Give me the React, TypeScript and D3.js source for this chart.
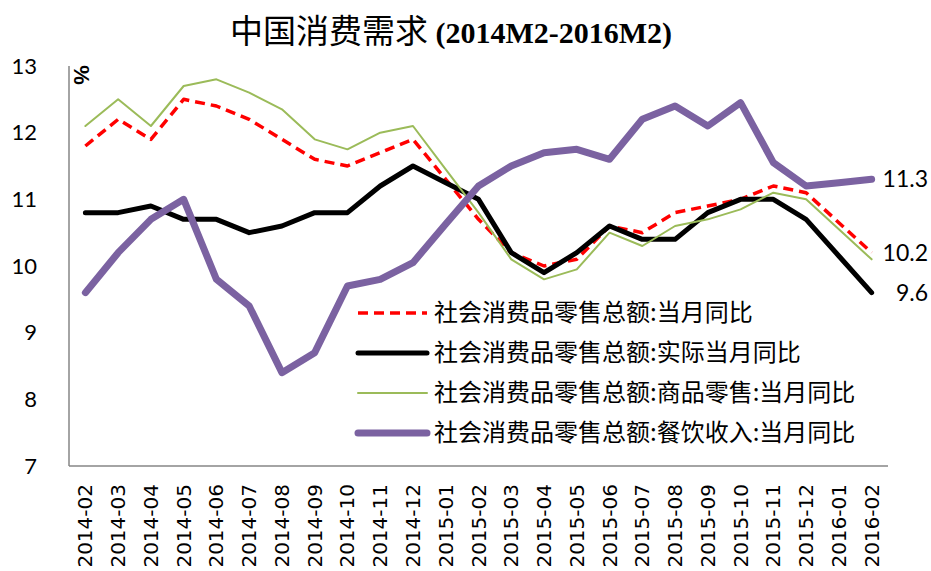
import React from "react";
import * as d3 from "d3";

const months = [
  "2014-02", "2014-03", "2014-04", "2014-05", "2014-06", "2014-07", "2014-08",
  "2014-09", "2014-10", "2014-11", "2014-12", "2015-01", "2015-02", "2015-03",
  "2015-04", "2015-05", "2015-06", "2015-07", "2015-08", "2015-09", "2015-10",
  "2015-11", "2015-12", "2016-01", "2016-02",
];

// 社会消费品零售总额:当月同比
const retailYoY = [11.8, 12.2, 11.9, 12.5, 12.4, 12.2, 11.9, 11.6, 11.5, 11.7, 11.9, 11.3, 10.7, 10.2, 10.0, 10.1, 10.6, 10.5, 10.8, 10.9, 11.0, 11.2, 11.1, 10.65, 10.2];
// 实际当月同比
const retailReal = [10.8, 10.8, 10.9, 10.7, 10.7, 10.5, 10.6, 10.8, 10.8, 11.2, 11.5, 11.25, 11.0, 10.2, 9.9, 10.2, 10.6, 10.4, 10.4, 10.8, 11.0, 11.0, 10.7, 10.15, 9.6];
// 商品零售:当月同比
const goodsYoY = [12.1, 12.5, 12.1, 12.7, 12.8, 12.6, 12.35, 11.9, 11.75, 12.0, 12.1, 11.45, 10.8, 10.1, 9.8, 9.95, 10.5, 10.3, 10.6, 10.7, 10.85, 11.1, 11.0, 10.55, 10.1];
// 餐饮收入:当月同比
const cateringYoY = [9.6, 10.2, 10.7, 11.0, 9.8, 9.4, 8.4, 8.7, 9.7, 9.8, 10.05, 10.63, 11.2, 11.5, 11.7, 11.75, 11.6, 12.2, 12.4, 12.1, 12.45, 11.55, 11.2, 11.25, 11.3];

const yTicks = [7, 8, 9, 10, 11, 12, 13];

const series = [
  { name: "社会消费品零售总额:当月同比", values: retailYoY, color: "#ff0000", width: 3.5, dash: "10,6", label: "10.2" },
  { name: "社会消费品零售总额:实际当月同比", values: retailReal, color: "#000000", width: 5, dash: null, label: "9.6" },
  { name: "社会消费品零售总额:商品零售:当月同比", values: goodsYoY, color: "#9bbb59", width: 2, dash: null, label: null },
  { name: "社会消费品零售总额:餐饮收入:当月同比", values: cateringYoY, color: "#7b62a1", width: 7, dash: null, label: "11.3" },
];

const W = 931;
const H = 571;
const plot = { left: 69, right: 888, top: 66, bottom: 466 };

export default function App() {
  const x = d3.scalePoint<string>().domain(months).range([plot.left, plot.right]).padding(0.5);
  const y = d3.scaleLinear().domain([7, 13]).range([plot.bottom, plot.top]);

  const line = d3.line<number>()
    .x((_, i) => x(months[i]) as number)
    .y((d) => y(d));

  const cjk = "'Noto Sans CJK SC', sans-serif";

  return (
    <svg width={W} height={H} style={{ position: "absolute", left: 0, top: 0, background: "#fff" }}>
      {/* title */}
      <text x={451} y={43} textAnchor="middle" fill="#000">
        <tspan fontFamily={cjk} fontSize={33} fontWeight={400}>中国消费需求 </tspan>
        <tspan fontFamily="'Liberation Serif', serif" fontSize={30} fontWeight="bold">(2014M2-2016M2)</tspan>
      </text>

      {/* axes */}
      <line x1={plot.left} x2={plot.left} y1={plot.top} y2={plot.bottom} stroke="#868686" strokeWidth={1.5} />
      <line x1={plot.left} x2={plot.right} y1={plot.bottom} y2={plot.bottom} stroke="#868686" strokeWidth={1.5} />

      {yTicks.map((t) => (
        <text key={t} x={37} y={y(t)} dy="0.35em" textAnchor="end" fontFamily="Lato, sans-serif" fontSize={22} fill="#000">
          {t}
        </text>
      ))}

      <text transform={`translate(82,75) rotate(90)`} textAnchor="middle" dy="0.35em"
        fontFamily="'Liberation Sans', sans-serif" fontWeight="bold" fontSize={22} fill="#000">%</text>

      {months.map((m) => (
        <text key={m} transform={`translate(${x(m)},484) rotate(-90)`} textAnchor="end" dy="0.35em"
          fontFamily="'DejaVu Sans', sans-serif" fontSize={20} fill="#000">
          {m}
        </text>
      ))}

      {/* lines */}
      {series.map((s) => (
        <path key={s.name} d={line(s.values) ?? ""} fill="none" stroke={s.color} strokeWidth={s.width}
          strokeDasharray={s.dash ?? undefined} strokeLinejoin="round" strokeLinecap={s.dash ? "butt" : "round"} />
      ))}

      {/* end labels */}
      {series.filter((s) => s.label).map((s) => (
        <text key={s.name + "l"} x={928} y={y(s.values[s.values.length - 1])} dy="0.35em" textAnchor="end"
          fontFamily="Lato, sans-serif" fontSize={23} fill="#000">
          {s.label}
        </text>
      ))}

      {/* legend */}
      {series.map((s, i) => {
        const ly = 313 + i * 40;
        return (
          <g key={s.name + "g"}>
            <line x1={358} x2={427} y1={ly} y2={ly} stroke={s.color} strokeWidth={s.width}
              strokeDasharray={s.dash ?? undefined} strokeLinecap={s.dash ? "butt" : "round"} />
            <text x={434} y={ly} dy="0.35em" fontFamily={cjk} fontSize={24} fill="#000">{s.name}</text>
          </g>
        );
      })}
    </svg>
  );
}
